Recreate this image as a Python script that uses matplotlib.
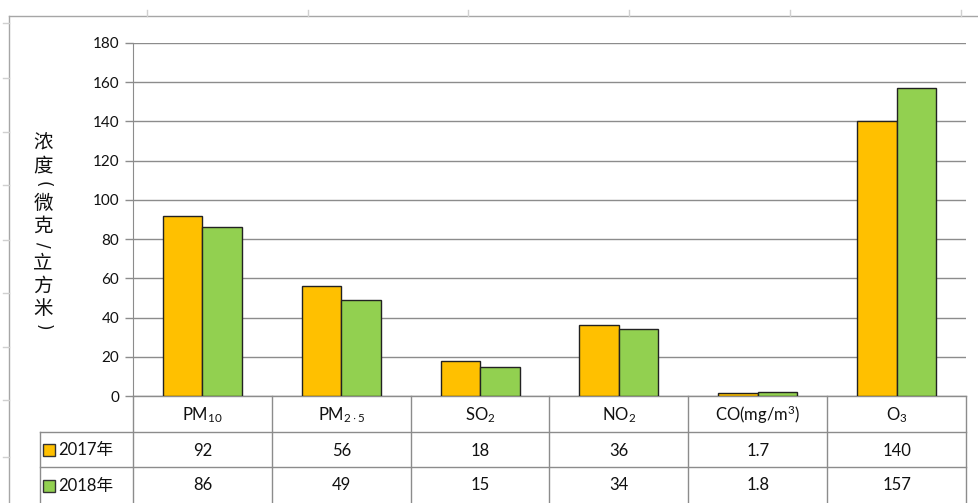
import matplotlib
matplotlib.use("Agg")
import matplotlib.pyplot as plt
from matplotlib.patches import Rectangle

# ---- data ----
categories = [r"PM$_{\mathrm{10}}$", r"PM$_{\mathrm{2\cdot5}}$", r"SO$_{\mathrm{2}}$",
              r"NO$_{\mathrm{2}}$", r"CO(mg/m$^{\mathrm{3}}$)", r"O$_{\mathrm{3}}$"]
series_names = ["2017年", "2018年"]
values_2017 = [92, 56, 18, 36, 1.7, 140]
values_2018 = [86, 49, 15, 34, 1.8, 157]
table_2017 = ["92", "56", "18", "36", "1.7", "140"]
table_2018 = ["86", "49", "15", "34", "1.8", "157"]
yticks = [0, 20, 40, 60, 80, 100, 120, 140, 160, 180]
ylabel_chars = ["浓", "度", "(", "微", "克", "/", "立", "方", "米", ")"]

colors = ["#FFC000", "#92D050"]
FONT = ["Lato", "Noto Sans CJK SC", "DejaVu Sans"]
plt.rcParams['font.family'] = FONT
plt.rcParams['mathtext.fontset'] = 'custom'
plt.rcParams['mathtext.rm'] = 'Lato'
plt.rcParams['mathtext.it'] = 'Lato:italic'
plt.rcParams['mathtext.bf'] = 'Lato:bold'

TXT = "#111111"
W, H = 979, 503
fig = plt.figure(figsize=(W / 100, H / 100), dpi=100)

# overlay axes in pixel coordinates
ov = fig.add_axes([0, 0, 1, 1], zorder=0)
ov.set_xlim(0, W)
ov.set_ylim(H, 0)
ov.axis("off")

# main plot axes
x0, x1 = 133, 966
ytop, ybot = 43, 396
ax = fig.add_axes([x0 / W, 1 - ybot / H, (x1 - x0) / W, (ybot - ytop) / H], zorder=1)
ax.patch.set_alpha(0)
n = len(categories)
ax.set_xlim(-0.5, n - 0.5)
ax.set_ylim(0, 180)
bw = 0.285
xs = list(range(n))
ax.bar([x - bw / 2 for x in xs], values_2017, width=bw, color=colors[0],
       edgecolor="#222222", linewidth=1.0, zorder=3)
ax.bar([x + bw / 2 for x in xs], values_2018, width=bw, color=colors[1],
       edgecolor="#222222", linewidth=1.0, zorder=3)
ax.set_yticks(yticks)
ax.set_yticklabels([str(v) for v in yticks], fontsize=11, color=TXT)
ax.yaxis.grid(True, color="#8c8c8c", linewidth=1.0, zorder=0)
ax.set_xticks([])
for s in ["top", "right", "bottom"]:
    ax.spines[s].set_visible(False)
ax.spines["left"].set_color("#8c8c8c")
ax.tick_params(axis="y", length=6, color="#8c8c8c", width=1.0, pad=4)

# outer frame (spreadsheet style)
fc = "#a6a6a6"
ov.plot([9, W], [16, 16], color=fc, lw=1.0)
ov.plot([9, 9], [16, H], color=fc, lw=1.0)
for tx in [147, 308, 468, 629, 790, 961]:
    ov.plot([tx, tx], [10, 16], color="#d0d0d0", lw=1.0)
for ty in [23, 78, 132, 185, 240, 293, 347, 400, 457]:
    ov.plot([3, 9], [ty, ty], color="#d0d0d0", lw=1.0)

# y label (vertical stacked, brackets and slash turned)
full, half = 23, 14
turned = "()/"
adv = [half if c in turned else full for c in ylabel_chars]
yc = 143
for i, c in enumerate(ylabel_chars):
    if i > 0:
        yc += (adv[i - 1] + adv[i]) / 2
    if c in turned:
        ov.text(43, yc, c, fontsize=12, ha="center", va="center", rotation=-90,
                family=["DejaVu Sans"], color=TXT)
    else:
        ov.text(43, yc, c, fontsize=14, ha="center", va="center",
                family=["Noto Sans CJK SC", "DejaVu Sans"], color=TXT)

# data table
lc = "#8c8c8c"
cw = (x1 - x0) / n
col_edges = [x0 + i * cw for i in range(n + 1)]
rows = [396, 432, 467, 504]
for xe in col_edges:
    ov.plot([xe, xe], [rows[0], rows[3]], color=lc, lw=1.0)
ov.plot([40, 40], [rows[1], rows[3]], color=lc, lw=1.0)
ov.plot([x0, x1], [rows[0], rows[0]], color=lc, lw=1.0)
for ry in rows[1:3]:
    ov.plot([40, x1], [ry, ry], color=lc, lw=1.0)

for i in range(n):
    cx = x0 + (i + 0.5) * cw
    ov.text(cx, (rows[0] + rows[1]) / 2 + 1, categories[i], fontsize=12,
            ha="center", va="center", color=TXT)
    ov.text(cx, (rows[1] + rows[2]) / 2 + 1, table_2017[i], fontsize=12,
            ha="center", va="center", color=TXT)
    ov.text(cx, (rows[2] + rows[3]) / 2, table_2018[i], fontsize=12,
            ha="center", va="center", color=TXT)

for r, (name, col) in enumerate(zip(series_names, colors)):
    cy = (rows[1 + r] + rows[2 + r]) / 2
    ov.add_patch(Rectangle((43, cy - 6), 12, 12, facecolor=col,
                           edgecolor="#333333", lw=1.0))
    ov.text(58, cy + 1, name, fontsize=12, ha="left", va="center", color=TXT)

fig.savefig("out.png", dpi=100)
